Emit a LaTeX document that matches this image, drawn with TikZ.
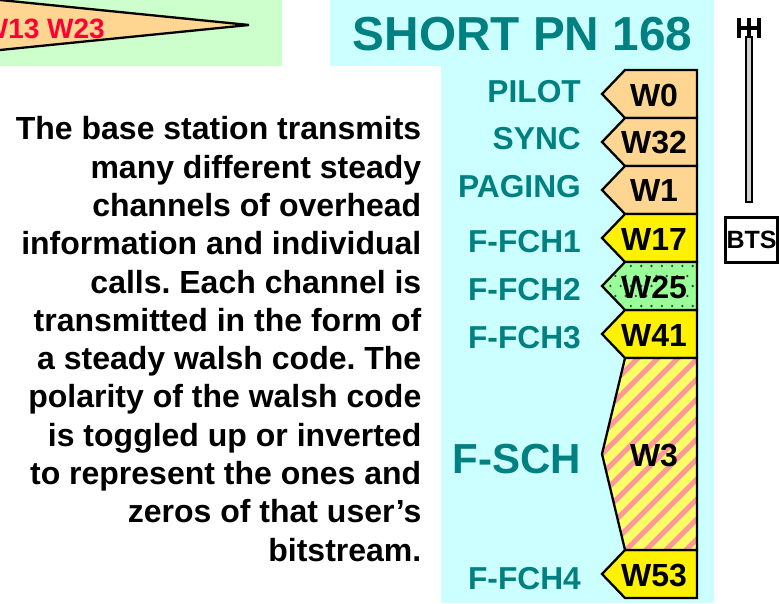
\documentclass[tikz,border=0pt]{standalone}
\usepackage{fontspec}
\setmainfont{Liberation Sans}
\definecolor{panelcyan}{RGB}{204,255,255}
\definecolor{panelgreen}{RGB}{204,255,204}
\definecolor{chiptan}{RGB}{255,214,145}
\definecolor{chipgreen}{RGB}{153,255,153}
\definecolor{chipstripe}{RGB}{255,153,153}
\definecolor{chippale}{RGB}{255,255,102}
\definecolor{labelteal}{RGB}{0,128,128}
\definecolor{codered}{RGB}{255,0,51}
\frenchspacing
\begin{document}
\begin{tikzpicture}[x=1pt,y=-1pt,
  chip/.style={draw=black,line width=2.3pt,line join=miter},
  chiptext/.style={font=\bfseries\fontsize{32}{32}\selectfont,text=black,inner sep=0pt},
  chanlabel/.style={font=\bfseries\fontsize{31.7}{31.7}\selectfont,text=labelteal,anchor=east,inner sep=0pt},
  body/.style={font=\bfseries\fontsize{32}{38.3}\selectfont,text=black,align=right,anchor=east,inner sep=0pt},
]
\useasboundingbox (0,0) rectangle (783,603);
% panels
\fill[panelgreen] (0,0) rectangle (282,66);
\fill[panelcyan] (330,0) rectangle (714,66);
\fill[panelcyan] (441,66) rectangle (714,603);
% wedge at top left
\draw[chip,fill=chiptan] (-10,-1) -- (249,25) -- (-10,51);
\node[font=\bfseries\fontsize{28}{28}\selectfont,text=codered,anchor=east,inner sep=0pt] (walshlist) at (105,29) {W13 W23};
% title
\node[font=\bfseries\fontsize{47.7}{47.7}\selectfont,text=labelteal,inner sep=0pt] (title) at (522.5,34) {SHORT PN 168};
% text block
\node[body] (bodytext) at (421.5,339) {The base station transmits\\many different steady\\channels of overhead\\information and individual\\calls. Each channel is\\transmitted in the form of\\a steady walsh code. The\\polarity of the walsh code\\is toggled up or inverted\\to represent the ones and\\zeros of that user’s\\bitstream.};
% code chips
\foreach \top/\bot/\colr in {70/118/chiptan,118/166/chiptan,166/214/chiptan,214/262/yellow,310/358/yellow,550/598/yellow}
  \draw[chip,fill=\colr] (697,\top) -- (625,\top) -- (602,{(\top+\bot)/2}) -- (625,\bot) -- (697,\bot) -- cycle;
% dotted chip
\fill[chipgreen] (697,262) -- (625,262) -- (602,286) -- (625,310) -- (697,310) -- cycle;
\begin{scope}
  \clip (697,262) -- (625,262) -- (602,286) -- (625,310) -- (697,310) -- cycle;
  \foreach \row in {0,...,4}
    \foreach \col in {0,...,9}
      \fill[black!75] ({600+\col*10.3+mod(\row,2)*5},{266+\row*10}) circle (1.3);
\end{scope}
\draw[chip] (697,262) -- (625,262) -- (602,286) -- (625,310) -- (697,310) -- cycle;
% striped chip
\fill[chippale] (697,358) -- (625,358) -- (602,454) -- (625,550) -- (697,550) -- cycle;
\begin{scope}
  \clip (697,358) -- (625,358) -- (602,454) -- (625,550) -- (697,550) -- cycle;
  \foreach \off in {0,...,16}
    \draw[chipstripe,line width=5pt] ({596+\off*20},340) -- ++(-230,230);
\end{scope}
\draw[chip] (697,358) -- (625,358) -- (602,454) -- (625,550) -- (697,550) -- cycle;
% chip texts and channel labels
\foreach \nm/\ypos in {W0/95,W32/143,W1/190,W17/239,W25/287,W41/335,W3/455,W53/575}
  \node[chiptext] (\nm) at (654,\ypos) {\nm};
\foreach \nm/\ypos in {PILOT/92,SYNC/139,PAGING/187,F-FCH1/242,F-FCH2/290,F-FCH3/338,F-FCH4/579}
  \node[chanlabel] (\nm) at (581,\ypos) {\nm};
\node[chanlabel,font=\bfseries\fontsize{42}{42}\selectfont] (FSCH) at (581,459) {F-SCH};
% tower
\draw[draw=black,line width=2pt,fill=black!18] (745.5,37) rectangle (752.3,202);
\draw[black,line width=4pt] (739,18) -- (739,38) (759,18) -- (759,38);
\draw[black,line width=4pt] (749,18) -- (749,37);
\draw[black,line width=3.5pt] (738,28) -- (760,28);
\node[draw=black,line width=2.2pt,fill=white,minimum width=52pt,minimum height=45pt,inner sep=0pt,font=\bfseries\fontsize{25}{25}\selectfont] (bts) at (751.5,240) {BTS};
\end{tikzpicture}
\end{document}
